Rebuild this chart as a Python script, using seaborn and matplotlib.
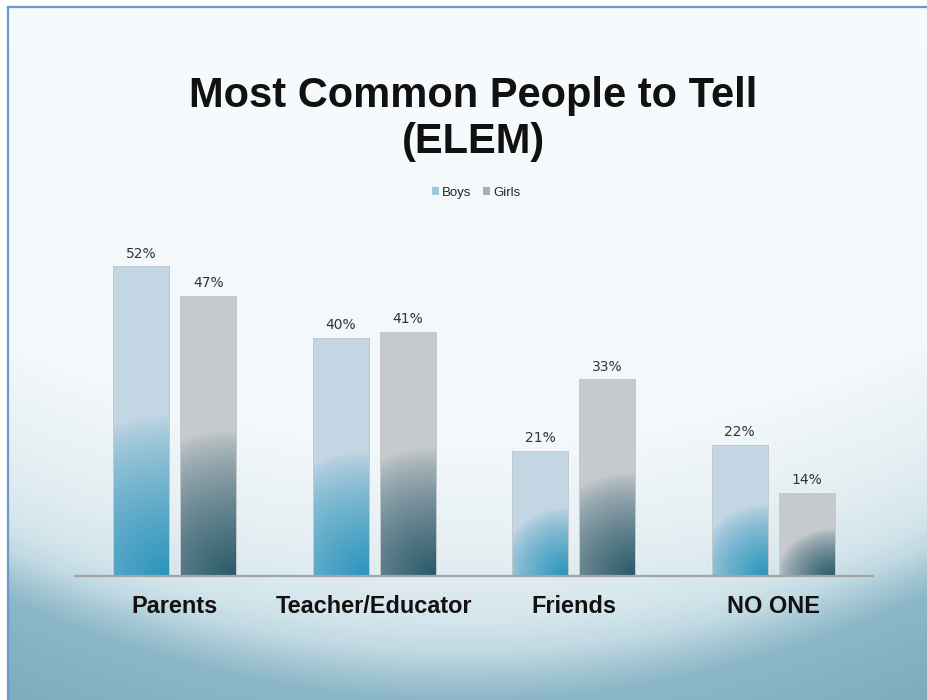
import numpy as np
import pandas as pd
import matplotlib
matplotlib.use("Agg")
import matplotlib.pyplot as plt
from matplotlib.patches import Patch, Rectangle
from matplotlib.colors import to_rgb
import seaborn as sns

categories = ["Parents", "Teacher/Educator", "Friends", "NO ONE"]
boys = [52, 40, 21, 22]
girls = [47, 41, 33, 14]
groups = ["Boys", "Girls"]

df = pd.DataFrame({
    "category": categories * 2,
    "group": ["Boys"] * 4 + ["Girls"] * 4,
    "value": boys + girls,
})

W, H = 927, 700
sns.set_theme(style="white")
plt.rcParams["font.family"] = ["Liberation Sans", "DejaVu Sans"]

fig = plt.figure(figsize=(W / 100, H / 100), dpi=100)

# ---- background ----
bg = fig.add_axes([0, 0, 1, 1], zorder=-10)
yy, xx = np.mgrid[0:H, 0:W].astype(float)
cy = yy + 0.00049 * (xx - 463) ** 2
stops = [0, 450, 560, 620, 650, 675, 700, 820]
cols = ["#f7fbfd", "#f3f8fa", "#e4eef2", "#d4e6ec", "#c2dae3", "#a5c7d4", "#8cb7c8", "#7aaabc"]
rgb = np.array([to_rgb(c) for c in cols])
img = np.zeros((H, W, 3))
for k in range(3):
    img[..., k] = np.interp(cy, stops, rgb[:, k])
img[:7, :, :] = 1.0
img[:, :8, :] = 1.0
bg.imshow(img, extent=[0, W, H, 0], aspect="auto", interpolation="bilinear")
bg.plot([8.5, 8.5], [7, H], color="#6d98cf", lw=1.6)
bg.plot([8.5, W], [7, 7], color="#6d98cf", lw=1.6)
bg.set_xlim(0, W)
bg.set_ylim(H, 0)
bg.axis("off")

# ---- main axes ----
x0, x1, base = 75, 873, 576
ppv = 5.96  # pixels per percent
ymax = 60
ax = fig.add_axes([x0 / W, (H - base) / H, (x1 - x0) / W, ymax * ppv / H])
ax.set_facecolor("none")

pal = {"Boys": "#c3d6e3", "Girls": "#c6cacd"}
bottoms = {"Boys": "#2b95bd", "Girls": "#2a5a6a"}
sns.barplot(data=df, x="category", y="value", hue="group", palette=pal,
            width=0.672, gap=0.164, ax=ax, legend=False, saturation=1,
            order=categories, hue_order=groups)

ax.set_xlim(-0.5, 3.5)
ax.set_ylim(0, ymax)
pxu = (x1 - x0) / 4.0

for cont, g in zip(ax.containers, groups):
    top = np.array(to_rgb(pal[g]))
    bot = np.array(to_rgb(bottoms[g]))
    for bar in cont:
        bx, bw, bh = bar.get_x(), bar.get_width(), bar.get_height()
        wpx, hpx = bw * pxu, bh * ppv
        nx, ny = max(int(wpx), 2), max(int(hpx), 2)
        u = np.linspace(0, wpx, nx)[None, :]
        v = np.linspace(0, hpx, ny)[:, None]
        ry = 0.5 * hpx + 5
        rx = max(ry, wpx * 1.0)
        d = np.sqrt(((u - wpx * 0.95) / rx) ** 2 + (v / ry) ** 2)
        t = np.clip(1 - d, 0, 1) ** 0.75
        im = top[None, None, :] * (1 - t[..., None]) + bot[None, None, :] * t[..., None]
        art = ax.imshow(im, extent=[bx, bx + bw, 0, bh], origin="lower",
                        aspect="auto", zorder=bar.get_zorder() + 0.1,
                        interpolation="bilinear")
        art.set_clip_path(bar)
        ax.add_patch(Rectangle((bx, 0), bw, bh, fill=False, edgecolor="#c4c8cc",
                               lw=0.7, zorder=bar.get_zorder() + 0.2))
    ax.bar_label(cont, labels=[f"{int(round(b.get_height()))}%" for b in cont],
                 padding=4, fontsize=10, color="#333333", family="DejaVu Sans")

ax.set_xlim(-0.5, 3.5)
ax.set_ylim(0, ymax)
ax.set_xlabel("")
ax.set_ylabel("")
ax.set_yticks([])
ax.tick_params(axis="x", length=0, pad=14)
for lab in ax.get_xticklabels():
    lab.set_fontfamily(["Liberation Sans", "DejaVu Sans"])
    lab.set_fontweight("bold")
    lab.set_fontsize(16.9)
    lab.set_color("#111111")
for s in ["top", "left", "right"]:
    ax.spines[s].set_visible(False)
ax.spines["bottom"].set_color("#a3a3a3")
ax.spines["bottom"].set_linewidth(1.6)

# ---- title ----
fig.text(473 / W, 1 - 76 / H, "Most Common People to Tell\n(ELEM)",
         ha="center", va="top", fontsize=30, fontweight="bold",
         color="#111111", linespacing=1.2, family=["Liberation Sans", "DejaVu Sans"])

# ---- legend ----
handles = [Patch(facecolor="#a3c6db", edgecolor="none"),
           Patch(facecolor="#a9b0b5", edgecolor="none")]
fig.legend(handles, groups, loc="center", bbox_to_anchor=(476 / W, 1 - 193 / H),
           ncol=2, frameon=False, fontsize=9.5, handlelength=0.55, handleheight=0.55,
           handletextpad=0.2, columnspacing=0.9)

fig.savefig("out.png", dpi=100)
